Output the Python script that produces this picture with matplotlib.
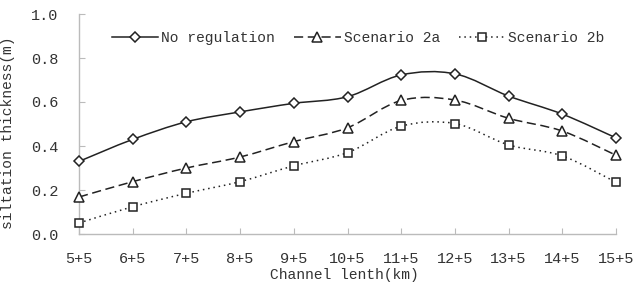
import numpy as np
import matplotlib
matplotlib.use("Agg")
import matplotlib.pyplot as plt
from matplotlib.path import Path
from matplotlib.patches import PathPatch
from matplotlib.lines import Line2D

categories = ["5+5", "6+5", "7+5", "8+5", "9+5", "10+5", "11+5", "12+5", "13+5", "14+5", "15+5"]
no_regulation = [0.33, 0.43, 0.51, 0.555, 0.594, 0.624, 0.723, 0.728, 0.627, 0.545, 0.437]
scenario_2a = [0.168, 0.238, 0.300, 0.350, 0.420, 0.483, 0.607, 0.609, 0.526, 0.468, 0.358]
scenario_2b = [0.050, 0.124, 0.185, 0.238, 0.310, 0.370, 0.490, 0.502, 0.405, 0.355, 0.235]
series_names = ["No regulation", "Scenario 2a", "Scenario 2b"]

plt.rcParams['font.family'] = ['Liberation Mono', 'DejaVu Sans Mono']
fig = plt.figure(figsize=(6.34, 2.85), dpi=100)
ax = fig.add_axes([79/634, 1-234/285, (616-79)/634, 220/285])

x = np.arange(len(categories), dtype=float)
col = '#222222'
styles = [('-', 'D', 5.5), ((0, (6, 3)), '^', 6.5), ((0, (1, 2.5)), 's', 6)]
handles = []
for ys, name, (ls, mk, ms) in zip([no_regulation, scenario_2a, scenario_2b], series_names, styles):
    y = np.asarray(ys, dtype=float)
    pts = np.column_stack([x, y])
    verts = [pts[0]]
    codes = [Path.MOVETO]
    n = len(pts)
    for i in range(n - 1):
        p0 = pts[max(i - 1, 0)]
        p1 = pts[i]
        p2 = pts[i + 1]
        p3 = pts[min(i + 2, n - 1)]
        c1 = p1 + (p2 - p0) / 6.0
        c2 = p2 - (p3 - p1) / 6.0
        verts += [c1, c2, p2]
        codes += [Path.CURVE4] * 3
    patch = PathPatch(Path(verts, codes), facecolor='none', edgecolor=col,
                      lw=1.1, linestyle=ls, transform=ax.transData, clip_on=False)
    ax.add_patch(patch)
    ax.plot(x, y, linestyle='none', marker=mk, markersize=ms, markerfacecolor='white',
            markeredgecolor=col, markeredgewidth=1.1, clip_on=False, zorder=3)
    handles.append(Line2D([], [], color=col, lw=1.1, linestyle=ls, marker=mk, markersize=ms,
                          markerfacecolor='white', markeredgecolor=col, markeredgewidth=1.1))

ax.set_xlim(0, 10)
ax.set_ylim(0, 1.0)
ax.set_xticks(x)
ax.set_xticklabels(categories)
ax.set_yticks(np.arange(0, 1.01, 0.2))
ax.set_yticklabels(["0.0", "0.2", "0.4", "0.6", "0.8", "1.0"])
for s in ['top', 'right']:
    ax.spines[s].set_visible(False)
for s in ['left', 'bottom']:
    ax.spines[s].set_color('#bbbbbb')
    ax.spines[s].set_linewidth(1.0)
ax.tick_params(axis='both', direction='in', color='#bbbbbb', length=4, labelsize=11,
               labelcolor='#333333')
ax.tick_params(axis='x', pad=13)
ax.tick_params(axis='y', pad=15)

ax.set_xlabel("Channel lenth(km)", fontsize=10.5, color='#333333')
ax.xaxis.set_label_coords(0.495, -0.155)
ax.set_ylabel("siltation thickness(m)", fontsize=10.5, color='#333333')
ax.yaxis.set_label_coords(-0.12, 0.46)

leg = ax.legend(handles, series_names, ncol=3, frameon=False, loc='center left',
                bbox_to_anchor=(0.05, 0.89), fontsize=10.5, handlelength=3.2,
                handletextpad=0.2, columnspacing=1.3, borderaxespad=0)
for t in leg.get_texts():
    t.set_color('#333333')

fig.savefig("out.png", dpi=100)
